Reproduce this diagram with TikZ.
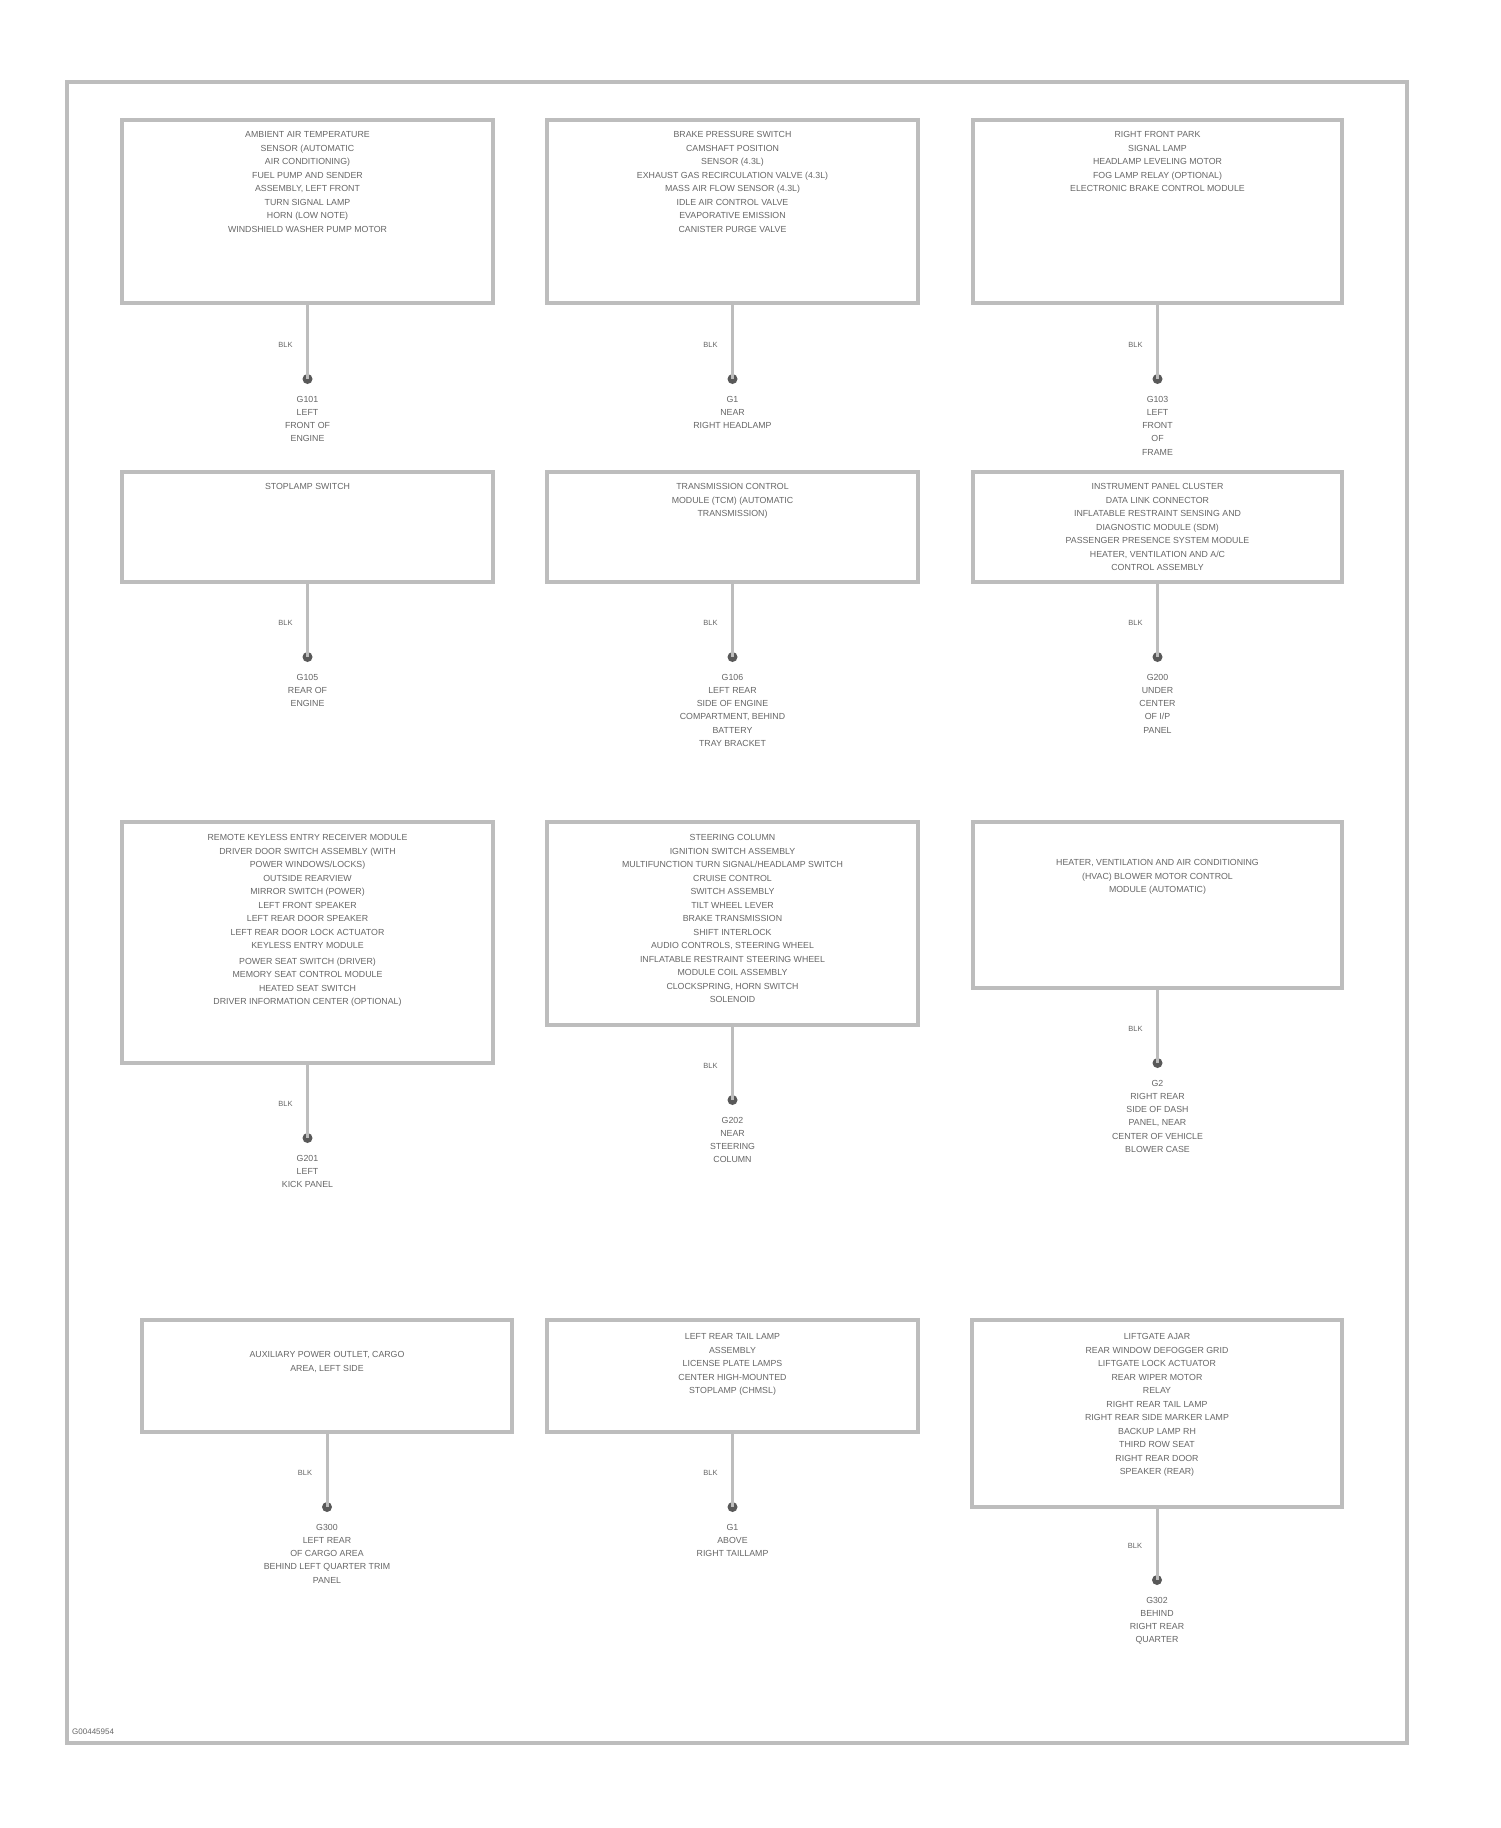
\documentclass[tikz,border=0pt]{standalone}
\usepackage{fontspec}
\setmainfont{Liberation Sans}
\definecolor{linegray}{gray}{0.74}
\definecolor{txtgray}{gray}{0.40}
\definecolor{dotgray}{gray}{0.35}
\tikzset{
  boxst/.style={draw=linegray, line width=4pt, rectangle, inner sep=0pt},
  wirest/.style={draw=linegray, line width=3pt},
  dotst/.style={circle, fill=dotgray, draw=none, minimum size=10pt, inner sep=0pt},
  txtst/.style={align=center, inner sep=0pt, text=txtgray, font=\fontsize{8.8}{13.5}\selectfont},
  lblst/.style={inner sep=0pt, text=txtgray, font=\fontsize{7.5}{9}\selectfont},
  gndst/.style={align=center, inner sep=0pt, text=txtgray, font=\fontsize{8.8}{13.2}\selectfont, anchor=north}
}
% #1 id, #2 left, #3 top, #4 right, #5 bottom, #6 first text line y, #7 box text, #8 dot y, #9 ground text
\newcommand{\grdblock}[9]{%
  \node[boxst, minimum width={(#4-#2)*1pt}, minimum height={(#5-#3)*1pt}] (#1box) at ({(#2+#4)/2},{(#3+#5)/2}) {};
  \node[txtst, anchor=north] (#1txt) at ({(#2+#4)/2},{#6-3.5}) {#7};
  \node[dotst] (#1dot) at ({(#2+#4)/2},#8) {};
  \draw[wirest] (#1box.south) -- (#1dot.center);
  \node[lblst] (#1lbl) at ({(#2+#4)/2-22},{#8-34}) {BLK};
  \node[gndst] (#1gnd) at ({(#2+#4)/2},{#8+17}) {#9};
}
\begin{document}
\begin{tikzpicture}[x=1pt,y=-1pt]
\useasboundingbox (0,0) rectangle (1500,1828);
\node[draw=linegray, line width=4pt, minimum width=1340pt, minimum height=1661pt, inner sep=0pt] (frame) at (737,912.5) {};
\node[lblst, anchor=west, font=\fontsize{8}{9}\selectfont] (footer) at (72,1732) {G00445954};

\grdblock{a}{122}{120}{493}{303}{135}{AMBIENT AIR TEMPERATURE\\SENSOR (AUTOMATIC\\AIR CONDITIONING)\\FUEL PUMP AND SENDER\\ASSEMBLY, LEFT FRONT\\TURN SIGNAL LAMP\\HORN (LOW NOTE)\\WINDSHIELD WASHER PUMP MOTOR}{379}{G101\\LEFT\\FRONT OF\\ENGINE}

\grdblock{b}{547}{120}{918}{303}{135}{BRAKE PRESSURE SWITCH\\CAMSHAFT POSITION\\SENSOR (4.3L)\\EXHAUST GAS RECIRCULATION VALVE (4.3L)\\MASS AIR FLOW SENSOR (4.3L)\\IDLE AIR CONTROL VALVE\\EVAPORATIVE EMISSION\\CANISTER PURGE VALVE}{379}{G1\\NEAR\\RIGHT HEADLAMP}

\grdblock{c}{973}{120}{1342}{303}{135}{RIGHT FRONT PARK\\SIGNAL LAMP\\HEADLAMP LEVELING MOTOR\\FOG LAMP RELAY (OPTIONAL)\\ELECTRONIC BRAKE CONTROL MODULE}{379}{G103\\LEFT\\FRONT\\OF\\FRAME}

\grdblock{d}{122}{472}{493}{582}{487}{STOPLAMP SWITCH}{657}{G105\\REAR OF\\ENGINE}

\grdblock{e}{547}{472}{918}{582}{487}{TRANSMISSION CONTROL\\MODULE (TCM) (AUTOMATIC\\TRANSMISSION)}{657}{G106\\LEFT REAR\\SIDE OF ENGINE\\COMPARTMENT, BEHIND\\BATTERY\\TRAY BRACKET}

\grdblock{f}{973}{472}{1342}{582}{487}{INSTRUMENT PANEL CLUSTER\\DATA LINK CONNECTOR\\INFLATABLE RESTRAINT SENSING AND\\DIAGNOSTIC MODULE (SDM)\\PASSENGER PRESENCE SYSTEM MODULE\\HEATER, VENTILATION AND A/C\\CONTROL ASSEMBLY}{657}{G200\\UNDER\\CENTER\\OF I/P\\PANEL}

\grdblock{g}{122}{822}{493}{1063}{838}{REMOTE KEYLESS ENTRY RECEIVER MODULE\\DRIVER DOOR SWITCH ASSEMBLY (WITH\\POWER WINDOWS/LOCKS)\\OUTSIDE REARVIEW\\MIRROR SWITCH (POWER)\\LEFT FRONT SPEAKER\\LEFT REAR DOOR SPEAKER\\LEFT REAR DOOR LOCK ACTUATOR\\KEYLESS ENTRY MODULE\\[2pt]POWER SEAT SWITCH (DRIVER)\\MEMORY SEAT CONTROL MODULE\\HEATED SEAT SWITCH\\DRIVER INFORMATION CENTER (OPTIONAL)}{1138}{G201\\LEFT\\KICK PANEL}

\grdblock{h}{547}{822}{918}{1025}{838}{STEERING COLUMN\\IGNITION SWITCH ASSEMBLY\\MULTIFUNCTION TURN SIGNAL/HEADLAMP SWITCH\\CRUISE CONTROL\\SWITCH ASSEMBLY\\TILT WHEEL LEVER\\BRAKE TRANSMISSION\\SHIFT INTERLOCK\\AUDIO CONTROLS, STEERING WHEEL\\INFLATABLE RESTRAINT STEERING WHEEL\\MODULE COIL ASSEMBLY\\CLOCKSPRING, HORN SWITCH\\SOLENOID}{1100}{G202\\NEAR\\STEERING\\COLUMN}

\grdblock{i}{973}{822}{1342}{988}{863}{HEATER, VENTILATION AND AIR CONDITIONING\\(HVAC) BLOWER MOTOR CONTROL\\MODULE (AUTOMATIC)}{1063}{G2\\RIGHT REAR\\SIDE OF DASH\\PANEL, NEAR\\CENTER OF VEHICLE\\BLOWER CASE}

\grdblock{j}{142}{1320}{512}{1432}{1355}{AUXILIARY POWER OUTLET, CARGO\\AREA, LEFT SIDE}{1507}{G300\\LEFT REAR\\OF CARGO AREA\\BEHIND LEFT QUARTER TRIM\\PANEL}

\grdblock{k}{547}{1320}{918}{1432}{1337}{LEFT REAR TAIL LAMP\\ASSEMBLY\\LICENSE PLATE LAMPS\\CENTER HIGH-MOUNTED\\STOPLAMP (CHMSL)}{1507}{G1\\ABOVE\\RIGHT TAILLAMP}

\grdblock{l}{972}{1320}{1342}{1507}{1337}{LIFTGATE AJAR\\REAR WINDOW DEFOGGER GRID\\LIFTGATE LOCK ACTUATOR\\REAR WIPER MOTOR\\RELAY\\RIGHT REAR TAIL LAMP\\RIGHT REAR SIDE MARKER LAMP\\BACKUP LAMP RH\\THIRD ROW SEAT\\RIGHT REAR DOOR\\SPEAKER (REAR)}{1580}{G302\\BEHIND\\RIGHT REAR\\QUARTER}
\end{tikzpicture}
\end{document}
